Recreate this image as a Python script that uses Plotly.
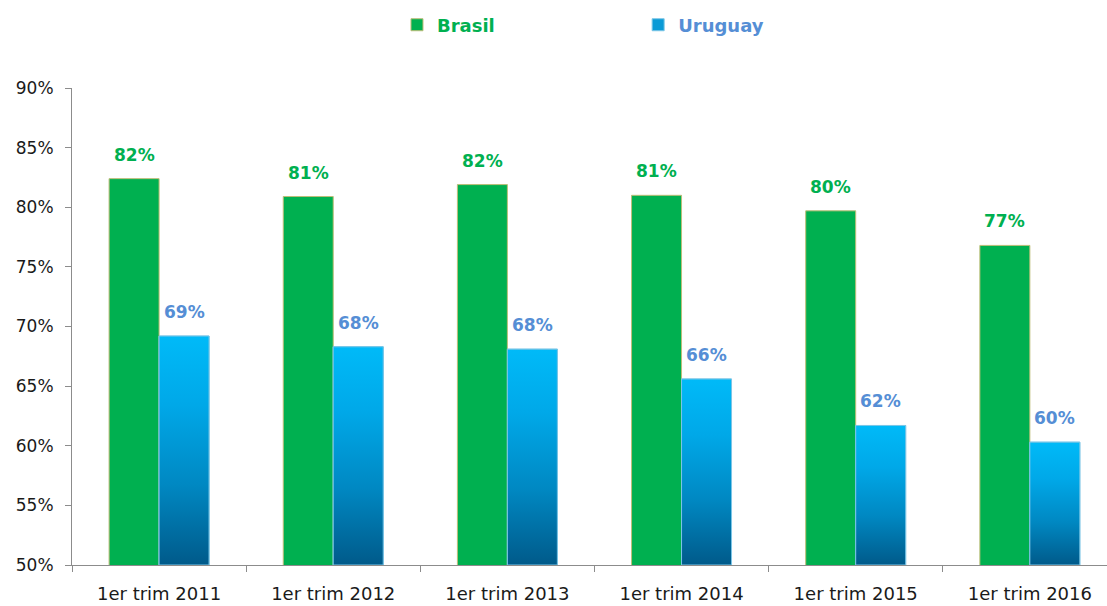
import plotly.graph_objects as go

categories = ["1er trim 2011", "1er trim 2012", "1er trim 2013",
              "1er trim 2014", "1er trim 2015", "1er trim 2016"]
brasil = [82.4, 80.9, 81.9, 81.0, 79.7, 76.8]
uruguay = [69.2, 68.3, 68.1, 65.6, 61.7, 60.3]
y_ticks = [50, 55, 60, 65, 70, 75, 80, 85, 90]
y_tick_labels = [f"{t}%" for t in y_ticks]

GREEN = "#00B050"
LBL_BLUE = "#558ED5"
FONT = "DejaVu Sans"
W = 0.287
Y_MIN, Y_MAX = 50, 90

xs = list(range(len(categories)))
fig = go.Figure()

fig.add_trace(go.Bar(
    x=xs, y=brasil, name="Brasil", offset=-W, width=W,
    marker=dict(color=GREEN, line=dict(color="#BDBD78", width=1)),
    legend="legend",
    hovertemplate="%{y:.1f}%<extra>Brasil</extra>",
))
fig.add_trace(go.Bar(
    x=xs, y=uruguay, name="Uruguay", offset=0, width=W,
    marker=dict(color="#0A9AD6", line=dict(color="#7CC6E6", width=1)),
    legend="legend2",
    hovertemplate="%{y:.1f}%<extra>Uruguay</extra>",
))

grad = [[0, "#005A8A"], [0.35, "#0088C2"], [0.7, "#00A8E8"], [1, "#00BAF8"]]
for i, v in zip(xs, uruguay):
    fig.add_trace(go.Scatter(
        x=[i, i + W, i + W, i, i], y=[Y_MIN, Y_MIN, v, v, Y_MIN],
        mode="lines", fill="toself",
        fillgradient=dict(type="vertical", colorscale=grad),
        line=dict(color="#7CC6E6", width=1),
        showlegend=False, hoverinfo="skip",
    ))

annotations = []
for i, v in zip(xs, brasil):
    annotations.append(dict(x=i - W / 2, y=v, text=f"{round(v)}%", showarrow=False,
                            yanchor="bottom", yshift=12,
                            font=dict(family=FONT, size=17, color=GREEN, weight="bold")))
for i, v in zip(xs, uruguay):
    annotations.append(dict(x=i + W / 2, y=v, text=f"{round(v)}%", showarrow=False,
                            yanchor="bottom", yshift=12,
                            font=dict(family=FONT, size=17, color=LBL_BLUE, weight="bold")))

fig.update_layout(
    width=1107, height=606,
    margin=dict(l=72, r=0, t=88, b=41),
    plot_bgcolor="white", paper_bgcolor="white",
    barmode="overlay",
    font=dict(family=FONT, color="#1A1A1A"),
    annotations=annotations,
    legend=dict(orientation="h", x=0.314, y=1.132, xanchor="left", yanchor="middle",
                font=dict(family=FONT, size=18, color=GREEN, weight="bold"),
                bgcolor="rgba(0,0,0,0)"),
    legend2=dict(orientation="h", x=0.547, y=1.132, xanchor="left", yanchor="middle",
                 font=dict(family=FONT, size=18, color=LBL_BLUE, weight="bold"),
                 bgcolor="rgba(0,0,0,0)"),
    xaxis=dict(
        range=[-0.5, 5.443], tickvals=xs, ticktext=categories,
        ticks="outside", ticklen=12, tickcolor="rgba(0,0,0,0)",
        tickfont=dict(family=FONT, size=18, color="#1A1A1A"),
        showline=True, linecolor="#8C8C8C", linewidth=1,
        showgrid=False, zeroline=False, automargin=False,
        minor=dict(tickvals=[x - 0.5 for x in xs] + [len(xs) - 0.5],
                   ticks="outside", ticklen=6, tickcolor="#8C8C8C", showgrid=False),
    ),
    yaxis=dict(
        range=[Y_MIN, Y_MAX], tickvals=y_ticks, ticktext=y_tick_labels,
        ticks="outside", ticklen=6, tickcolor="#8C8C8C",
        ticklabelstandoff=8,
        tickfont=dict(family=FONT, size=17, color="#1A1A1A"),
        showline=True, linecolor="#8C8C8C", linewidth=1,
        showgrid=False, zeroline=False, automargin=False,
    ),
)

fig.write_html("out.html", config={"displayModeBar": False},
               post_script="document.body.style.margin='0';document.body.style.overflow='hidden';")
